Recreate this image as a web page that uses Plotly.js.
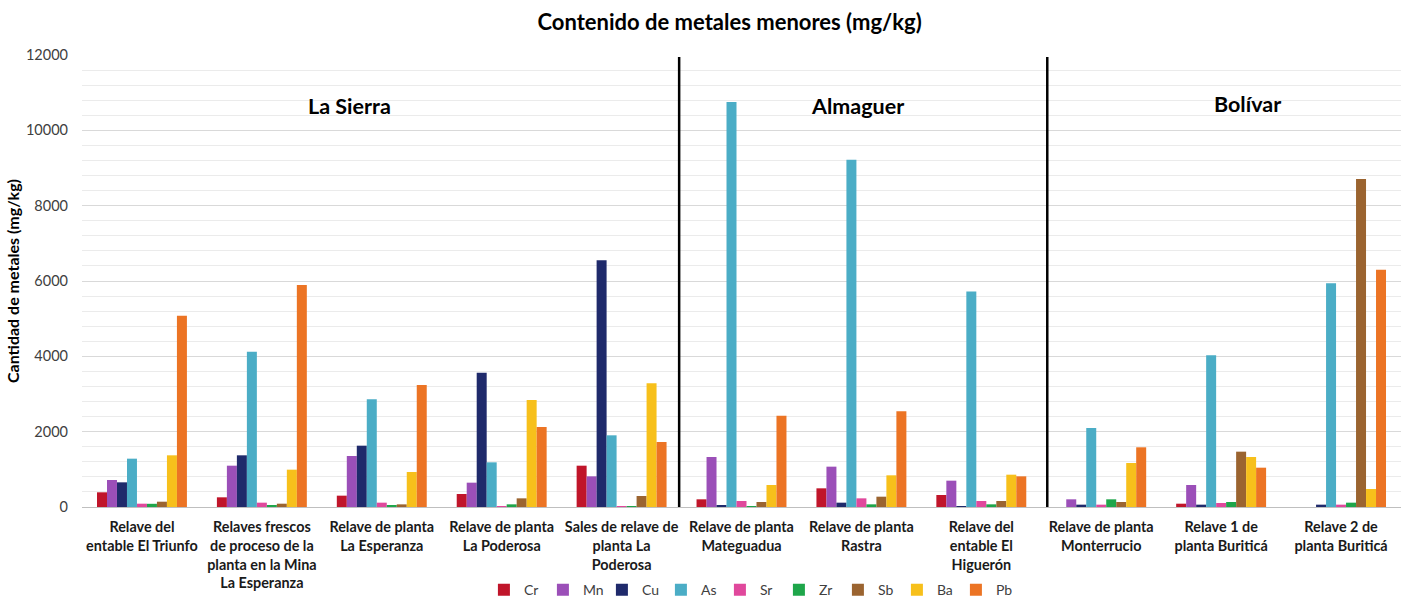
<!DOCTYPE html>
<html>
<head>
<meta charset="utf-8">
<script src="https://cdn.plot.ly/plotly-3.0.1.min.js"></script>
<style>html,body{margin:0;padding:0;background:#fff;}#chart{width:1414px;height:598px;}</style>
</head>
<body>
<div id="chart"></div>
<script>
const categories = [
  "Relave del<br>entable El Triunfo",
  "Relaves frescos<br>de proceso de la<br>planta en la Mina<br>La Esperanza",
  "Relave de planta<br>La Esperanza",
  "Relave de planta<br>La Poderosa",
  "Sales de relave de<br>planta La<br>Poderosa",
  "Relave de planta<br>Mateguadua",
  "Relave de planta<br>Rastra",
  "Relave del<br>entable El<br>Higuerón",
  "Relave de planta<br>Monterrucio",
  "Relave 1 de<br>planta Buriticá",
  "Relave 2 de<br>planta Buriticá"
];
const metals = ["Cr", "Mn", "Cu", "As", "Sr", "Zr", "Sb", "Ba", "Pb"];
const Cr = [390, 257, 301, 345, 1097, 204, 496, 319, 0, 88, 0];
const Mn = [717, 1097, 1354, 646, 814, 1328, 1071, 699, 204, 584, 0];
const Cu = [655, 1372, 1628, 3566, 6550, 45, 115, 10, 62, 62, 62];
const As = [1283, 4120, 2859, 1186, 1903, 10750, 9220, 5720, 2097, 4030, 5939];
const Sr = [88, 115, 115, 20, 15, 159, 230, 159, 62, 106, 62];
const Zr = [85, 45, 45, 71, 15, 20, 71, 71, 204, 133, 115];
const Sb = [141, 88, 70, 230, 292, 133, 274, 159, 133, 1469, 8708];
const Ba = [1372, 991, 929, 2841, 3283, 584, 841, 858, 1168, 1328, 478];
const Pb = [5079, 5894, 3239, 2124, 1726, 2425, 2540, 814, 1585, 1044, 6300];
const seriesValues = [Cr, Mn, Cu, As, Sr, Zr, Sb, Ba, Pb];
const colors = ["#c0152a", "#9b4fb8", "#1f2a6b", "#4badc6", "#e0489c", "#1ea64a", "#9b6430", "#f7c01b", "#ec7424"];
const regions = ["La Sierra", "Almaguer", "Bolívar"];

const FONT = "Lato, 'Open Sans', sans-serif";
const traces = metals.map((m, i) => ({
  type: "bar",
  name: m,
  x: categories,
  y: seriesValues[i],
  marker: {color: colors[i], line: {width: 0}},
  hoverinfo: "x+y+name"
}));

const layout = {
  width: 1414, height: 598,
  paper_bgcolor: "#fff", plot_bgcolor: "#fff",
  font: {family: FONT, color: "#404040", size: 14},
  title: {text: "<b>Contenido de metales menores (mg/kg)</b>", font: {family: FONT, size: 22, color: "#000"}, x: 0.516, xanchor: "center", y: 0.963, yanchor: "middle"},
  margin: {l: 82, r: 13, t: 55, b: 91, autoexpand: false},
  barmode: "group",
  bargap: 0.25,
  bargroupgap: 0,
  showlegend: true,
  legend: {orientation: "h", x: 0.506, xanchor: "center", y: -0.184, yanchor: "middle", entrywidth: 14, entrywidthmode: "pixels", font: {family: FONT, size: 14, color: "#404040"}, traceorder: "normal", itemwidth: 30},
  xaxis: {
    type: "category", automargin: false,
    showline: true, linecolor: "#bfbfbf", linewidth: 1,
    ticks: "", showgrid: false, ticklabelstandoff: 7,
    tickfont: {family: FONT, size: 14.4, color: "#1a1a1a", weight: "bold"},
    tickangle: 0
  },
  yaxis: {
    range: [0, 12000], dtick: 2000, tickformat: "d", automargin: false,
    showgrid: true, gridcolor: "#d9d9d9", gridwidth: 1, zeroline: false,
    minor: {dtick: 400, showgrid: true, gridcolor: "#ebebeb", gridwidth: 1},
    ticks: "", ticklabelstandoff: 13,
    tickfont: {family: FONT, size: 14.5, color: "#404040"},
    title: {text: "<b>Cantidad de metales (mg/kg)</b>", font: {family: FONT, size: 16, color: "#000"}, standoff: 2}
  },
  shapes: [
    {type: "line", xref: "x", yref: "y", x0: 4.48, x1: 4.48, y0: 0, y1: 11950, line: {color: "#000", width: 2.5}},
    {type: "line", xref: "x", yref: "y", x0: 7.55, x1: 7.55, y0: 0, y1: 11950, line: {color: "#000", width: 2.5}}
  ],
  annotations: [
    {text: "<b>" + regions[0] + "</b>", xref: "x", yref: "y", x: 1.73, y: 10650, showarrow: false, font: {family: FONT, size: 21.5, color: "#000"}},
    {text: "<b>" + regions[1] + "</b>", xref: "x", yref: "y", x: 5.97, y: 10650, showarrow: false, font: {family: FONT, size: 21.5, color: "#000"}},
    {text: "<b>" + regions[2] + "</b>", xref: "x", yref: "y", x: 9.22, y: 10700, showarrow: false, font: {family: FONT, size: 21.5, color: "#000"}}
  ]
};

Plotly.newPlot("chart", traces, layout, {displayModeBar: false, responsive: false});
</script>
</body>
</html>
